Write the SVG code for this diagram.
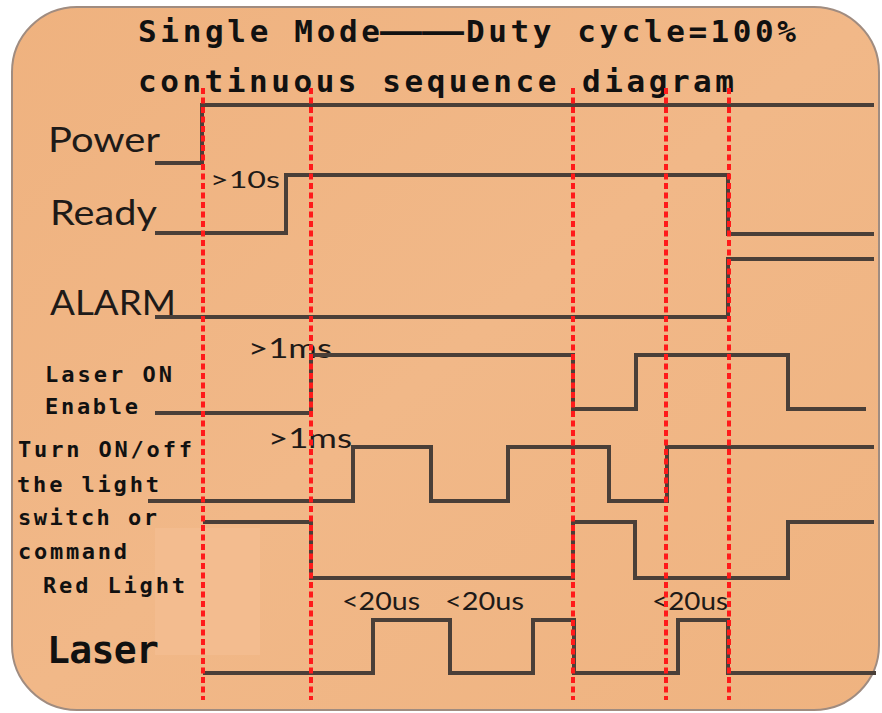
<svg xmlns="http://www.w3.org/2000/svg" width="882" height="713" viewBox="0 0 882 713">
<defs>
<linearGradient id="bg" x1="0" y1="0" x2="1" y2="1">
<stop offset="0" stop-color="#EFB27F"/>
<stop offset="0.5" stop-color="#F1B888"/>
<stop offset="1" stop-color="#EFB380"/>
</linearGradient>
<style>
.sig{fill:none;stroke:#4A3F38;stroke-width:4;stroke-linejoin:miter}
.mark{fill:none;stroke:#FF1A1A;stroke-width:4;stroke-dasharray:6 3.5}
.title{font-family:"DejaVu Sans Mono","Liberation Mono",monospace;font-weight:bold;font-size:31px;fill:#111}
.lab{font-family:"DejaVu Sans Mono","Liberation Mono",monospace;font-weight:bold;font-size:22px;fill:#111}
.big{font-size:38px}
.cal{font-family:Lato,"Liberation Sans",sans-serif;fill:#1E1A18}
</style>
</defs>
<rect width="882" height="713" fill="#FFFFFF"/>
<rect id="panel" x="12" y="7" width="867" height="703" rx="65" ry="65" fill="url(#bg)" stroke="#A08C80" stroke-width="2"/>
<rect x="155" y="528" width="105" height="127" fill="#F3BE93" opacity="0.7"/>

<g id="title">
<text class="title" y="42"><tspan x="138" textLength="242">Single Mode</tspan><tspan x="380" textLength="84" lengthAdjust="spacingAndGlyphs">——</tspan><tspan x="466" textLength="330">Duty cycle=100%</tspan></text>
<text class="title" x="138" y="92" textLength="596">continuous sequence diagram</text>
</g>

<g id="power">
<text class="cal" x="48" y="152" font-size="34" textLength="112" lengthAdjust="spacingAndGlyphs">Power</text>
<polyline class="sig" points="155,163 202,163 202,105 874,105"/>
</g>
<g id="ready">
<text class="cal" x="50" y="225" font-size="34" textLength="107" lengthAdjust="spacingAndGlyphs">Ready</text>
<text class="cal" x="210" y="188" font-size="24" textLength="70" lengthAdjust="spacingAndGlyphs">&gt;10s</text>
<polyline class="sig" points="155,233 286,233 286,175 728,175 728,234 874,234"/>
</g>
<g id="alarm">
<text class="cal" x="50" y="315" font-size="34" textLength="126" lengthAdjust="spacingAndGlyphs">ALARM</text>
<polyline class="sig" points="155,317 728,317 728,259 874,259"/>
</g>
<g id="laser-on-enable">
<text class="lab" x="45" y="382" textLength="127">Laser ON</text>
<text class="lab" x="45" y="414" textLength="93">Enable</text>
<text class="cal" x="248" y="358" font-size="26" textLength="84" lengthAdjust="spacingAndGlyphs">&gt;1ms</text>
<polyline class="sig" points="155,413 311,413 311,355 573,355 573,409 636,409 636,355 788,355 788,409 866,409"/>
</g>
<g id="turn-on-off">
<text class="lab" x="18" y="457" textLength="174">Turn ON/off</text>
<text class="lab" x="17" y="492" textLength="142">the light</text>
<text class="lab" x="18" y="525" textLength="139">switch or</text>
<text class="lab" x="18" y="559" textLength="109">command</text>
<text class="cal" x="268" y="448" font-size="26" textLength="84" lengthAdjust="spacingAndGlyphs">&gt;1ms</text>
<polyline class="sig" points="148,501 353,501 353,447 431,447 431,501 508,501 508,447 609,447 609,501 667,501 667,447 874,447"/>
</g>
<g id="red-light">
<text class="lab" x="43" y="593" textLength="142">Red Light</text>
<polyline class="sig" points="203,522 311,522 311,578 573,578 573,522 635,522 635,578 788,578 788,522 874,522"/>
</g>
<g id="laser">
<text class="lab big" x="47" y="663" textLength="112">Laser</text>
<text class="cal" x="342" y="610" font-size="25" textLength="78" lengthAdjust="spacingAndGlyphs">&lt;20us</text>
<text class="cal" x="445" y="610" font-size="25" textLength="79" lengthAdjust="spacingAndGlyphs">&lt;20us</text>
<text class="cal" x="652" y="610" font-size="25" textLength="76" lengthAdjust="spacingAndGlyphs">&lt;20us</text>
<polyline class="sig" points="203,673 373,673 373,620 450,620 450,673 533,673 533,620 574,620 574,673 678,673 678,620 728,620 728,673 876,673"/>
</g>
<g id="connectors">
<line class="mark" x1="203" y1="88" x2="203" y2="700"/>
<line class="mark" x1="311" y1="88" x2="311" y2="700"/>
<line class="mark" x1="573" y1="88" x2="573" y2="700"/>
<line class="mark" x1="666" y1="88" x2="666" y2="700"/>
<line class="mark" x1="729" y1="88" x2="729" y2="700"/>
</g>
</svg>
